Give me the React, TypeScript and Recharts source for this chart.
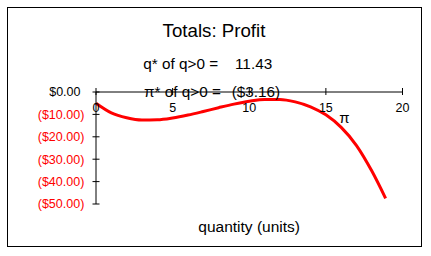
import React from 'react';
import { LineChart, Line, XAxis, YAxis } from 'recharts';

// profit curve
const quantities = [0, 1, 2, 3, 4, 5, 6, 7, 8, 9, 10, 11, 12, 13, 14, 15, 16, 17, 18, 18.9];
const profit = [-5.0, -9.3, -11.5, -12.5, -12.4, -11.6, -10.3, -8.7, -7.0, -5.4, -4.1, -3.3, -3.3, -4.4, -6.6, -10.2, -15.8, -23.9, -35.3, -47.5];

const xTicks = [0, 5, 10, 15, 20];
const yTicks = [0, -10, -20, -30, -40, -50];

const title = 'Totals: Profit';
const qStarLabel = 'q* of q>0 =';
const qStarValue = '11.43';
const piStarLabel = 'π* of q>0 =';
const piStarValue = '($3.16)';

const chartData = quantities.map((q, i) => ({ q, profit: profit[i] }));

const FONT = 'Arial, "Liberation Sans", sans-serif';

const money = (v: number) => (v < 0 ? `($${Math.abs(v).toFixed(2)})` : `$${v.toFixed(2)}`);

const XTick = ({ x, y, payload }: any) => (
  <g>
    <line x1={x} x2={x} y1={y - 4} y2={y + 3} stroke="#000" />
    <text x={x} y={y + 19.5} textAnchor="middle" fontSize={12.5} fontFamily={FONT} fill="#000">
      {payload.value}
    </text>
  </g>
);

const YTick = ({ x, y, payload }: any) => {
  const v = payload.value;
  return (
    <g>
      <line x1={x - 3.5} x2={x + 3.5} y1={y} y2={y} stroke="#000" />
      <text
        x={v < 0 ? x - 11.7 : x - 15.5}
        y={y}
        dy="0.355em"
        textAnchor="end"
        fontSize={12.5}
        fontFamily={FONT}
        fill={v < 0 ? '#ff0000' : '#000'}
      >
        {money(v)}
      </text>
    </g>
  );
};

export default function App() {
  return (
    <div style={{ position: 'absolute', left: 0, top: 0, width: 431, height: 256 }}>
      <div
        style={{
          position: 'absolute',
          left: 7,
          top: 7,
          width: 415,
          height: 240,
          border: '1px solid #000',
          boxSizing: 'border-box',
        }}
      />
      <div style={{ position: 'absolute', left: 0, top: 0 }}>
        <LineChart width={431} height={256} data={chartData} margin={{ top: 91, right: 28.5, bottom: 52, left: 0 }}>
          <XAxis
            dataKey="q"
            type="number"
            orientation="top"
            domain={[0, 20]}
            ticks={xTicks}
            interval={0}
            height={1}
            tickSize={0}
            tickMargin={0}
            tickLine={false}
            axisLine={{ stroke: '#000' }}
            tick={<XTick />}
          />
          <YAxis
            type="number"
            domain={[-50, 0]}
            ticks={yTicks}
            interval={0}
            width={96}
            tickSize={0}
            tickMargin={0}
            tickLine={false}
            axisLine={{ stroke: '#000' }}
            tick={<YTick />}
          />
          <Line
            type="monotone"
            dataKey="profit"
            stroke="#ff0000"
            strokeWidth={3}
            dot={false}
            isAnimationActive={false}
          />
        </LineChart>
      </div>
      <svg width={431} height={256} style={{ position: 'absolute', left: 0, top: 0, pointerEvents: 'none' }}>
        <g fontFamily={FONT} fill="#000">
          <text x={214} y={36.7} textAnchor="middle" fontSize={18.7}>{title}</text>
          <text x={143.3} y={69} fontSize={15.3}>{qStarLabel}</text>
          <text x={235} y={69} fontSize={15.3}>{qStarValue}</text>
          <text x={144} y={97.3} fontSize={15.3}>{piStarLabel}</text>
          <text x={231.7} y={97.3} fontSize={15.3}>{piStarValue}</text>
          <text x={339.3} y={123.3} fontSize={15}>π</text>
          <text x={198.3} y={231.5} fontSize={15.5}>quantity (units)</text>
        </g>
      </svg>
    </div>
  );
}
